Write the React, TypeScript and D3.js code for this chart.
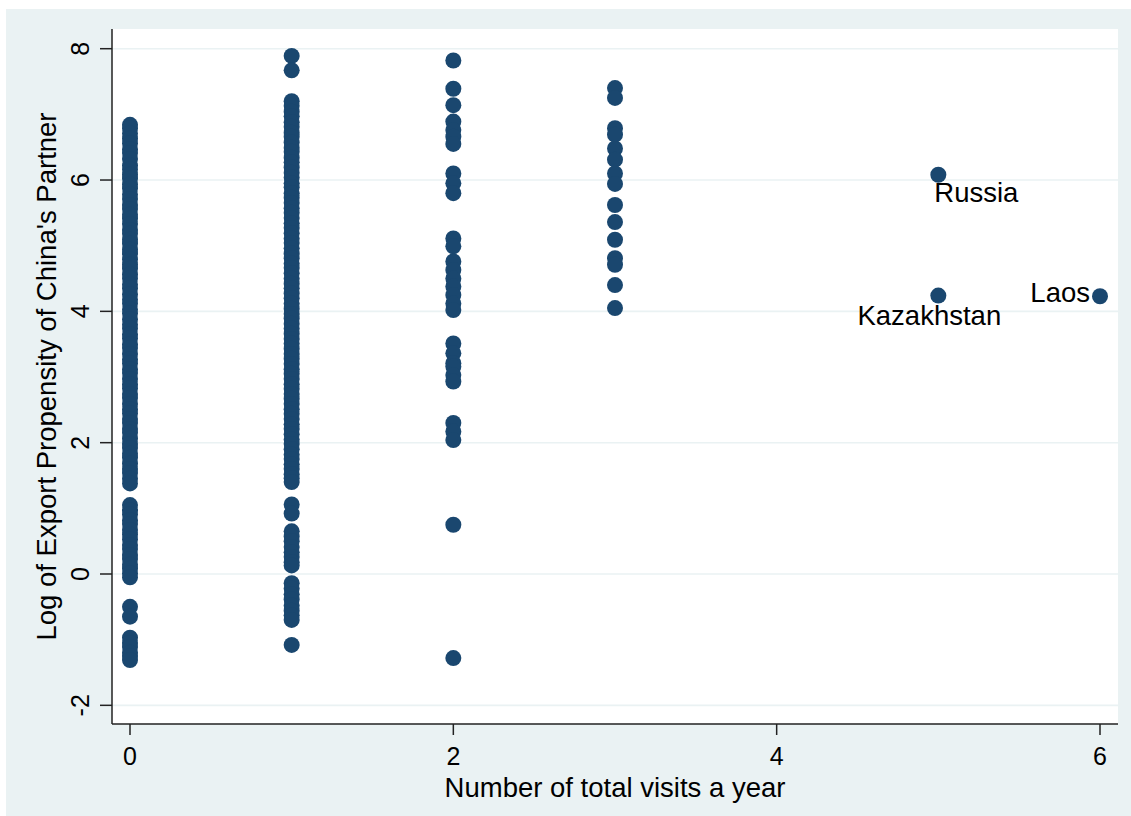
import React from "react";
import * as d3 from "d3";

// ---- data ----
const visits0: number[] = [
  6.84, 6.79, 6.71, 6.63, 6.56, 6.47, 6.41, 6.32, 6.22, 6.16, 6.08, 6.02, 5.93, 5.87, 5.78, 5.71,
  5.62, 5.56, 5.47, 5.41, 5.33, 5.24, 5.18, 5.09, 5.03, 4.94, 4.88, 4.79, 4.71, 4.65, 4.56, 4.5,
  4.41, 4.35, 4.26, 4.18, 4.12, 4.03, 3.97, 3.88, 3.8, 3.74, 3.65, 3.59, 3.5, 3.44, 3.35, 3.27,
  3.21, 3.12, 3.06, 2.97, 2.89, 2.83, 2.74, 2.68, 2.59, 2.51, 2.45, 2.36, 2.3, 2.21, 2.15, 2.06,
  1.98, 1.92, 1.83, 1.77, 1.68, 1.6, 1.54, 1.45, 1.38,
  1.05, 0.97, 0.91, 0.82, 0.76, 0.67, 0.6, 0.53, 0.44, 0.38, 0.29, 0.23, 0.14, 0.08, 0.01, -0.05,
  -0.5, -0.65,
  -0.97, -1.05, -1.11, -1.2, -1.25, -1.31,
];

const visits1: number[] = [
  7.89, 7.67,
  7.2, 7.13, 7.04, 6.97, 6.88, 6.81, 6.72, 6.66, 6.57, 6.49, 6.43, 6.34, 6.27, 6.19, 6.11, 6.04,
  5.95, 5.89, 5.8, 5.73, 5.65, 5.57, 5.5, 5.42, 5.34, 5.27, 5.19, 5.11, 5.04, 4.96, 4.88, 4.81,
  4.73, 4.66, 4.58, 4.5, 4.42, 4.35, 4.27, 4.2, 4.12, 4.04, 3.96, 3.89, 3.81, 3.74, 3.66, 3.58,
  3.51, 3.43, 3.35, 3.28, 3.2, 3.12, 3.05, 2.97, 2.89, 2.82, 2.74, 2.67, 2.59, 2.51, 2.44, 2.36,
  2.28, 2.21, 2.13, 2.05, 1.98, 1.9, 1.82, 1.75, 1.67, 1.6, 1.52, 1.46, 1.4,
  1.06, 0.92,
  0.65, 0.57, 0.5, 0.41, 0.33, 0.26, 0.18, 0.13,
  -0.14, -0.22, -0.31, -0.39, -0.48, -0.56, -0.63, -0.7,
  -1.08,
];

const visits2: number[] = [
  7.82, 7.39, 7.14, 6.89, 6.76, 6.66, 6.55, 6.1, 5.95, 5.8, 5.11, 4.99, 4.76, 4.63, 4.5, 4.38,
  4.25, 4.12, 4.02, 3.51, 3.36, 3.21, 3.16, 3.03, 2.93, 2.3, 2.17, 2.04, 0.75, -1.28,
];

const visits3: number[] = [
  7.4, 7.25, 6.79, 6.69, 6.48, 6.31, 6.1, 5.94, 5.62, 5.36, 5.09, 4.81, 4.71, 4.4, 4.05,
];

const labelledNames: string[] = ["Russia", "Kazakhstan", "Laos"];
const labelledVisits: number[] = [5, 5, 6];
const labelledValues: number[] = [6.08, 4.24, 4.23];
const labelClock: number[] = [5, 6, 9];

const xTicks: number[] = [0, 2, 4, 6];
const yTicks: number[] = [-2, 0, 2, 4, 6, 8];
const xTitle = "Number of total visits a year";
const yTitle = "Log of Export Propensity of China's Partner";

// ---- layout ----
const W = 1131;
const H = 816;
const plot = { left: 112, right: 1118, top: 29, bottom: 724 };
const navy = "#1a476f";
const bg = "#eaf2f3";
const font = "'Liberation Sans', Arial, Helvetica, sans-serif";

export default function App() {
  const x = d3.scaleLinear().domain([0, 6]).range([130, 1100]);
  const y = d3.scaleLinear().domain([0, 8]).range([574, 48.7]);

  const points: { vx: number; vy: number }[] = [];
  [visits0, visits1, visits2, visits3].forEach((arr, i) =>
    arr.forEach((v) => points.push({ vx: i, vy: v }))
  );
  labelledNames.forEach((_, i) => points.push({ vx: labelledVisits[i], vy: labelledValues[i] }));

  const labelOffset = (clock: number) => {
    if (clock === 5) return { dx: -4, dy: 27, anchor: "start" };
    if (clock === 6) return { dx: -9, dy: 29, anchor: "middle" };
    return { dx: -10, dy: 6, anchor: "end" };
  };

  return (
    <svg
      width={W}
      height={H}
      style={{ position: "absolute", left: 0, top: 0, display: "block" }}
      fontFamily={font}
    >
      <rect x={0} y={0} width={W} height={H} fill="#ffffff" />
      <rect x={6} y={9} width={W - 6} height={H - 9} fill={bg} />
      <rect
        x={plot.left}
        y={plot.top}
        width={plot.right - plot.left}
        height={plot.bottom - plot.top}
        fill="#ffffff"
      />
      {/* gridlines */}
      {yTicks.map((t) => (
        <line
          key={"g" + t}
          x1={plot.left}
          x2={plot.right}
          y1={y(t)}
          y2={y(t)}
          stroke={bg}
          strokeWidth={1.6}
        />
      ))}
      {/* points */}
      {points.map((p, i) => (
        <circle key={i} cx={x(p.vx)} cy={y(p.vy)} r={8} fill={navy} />
      ))}
      {/* labels */}
      {labelledNames.map((n, i) => {
        const o = labelOffset(labelClock[i]);
        return (
          <text
            key={n}
            x={x(labelledVisits[i]) + o.dx}
            y={y(labelledValues[i]) + o.dy}
            textAnchor={o.anchor as any}
            fontSize={27.5}
            fill="#000"
          >
            {n}
          </text>
        );
      })}
      {/* axes */}
      <line x1={plot.left} x2={plot.left} y1={plot.top} y2={plot.bottom} stroke="#222" strokeWidth={1.5} />
      <line x1={plot.left} x2={plot.right} y1={plot.bottom} y2={plot.bottom} stroke="#222" strokeWidth={1.5} />
      {yTicks.map((t) => (
        <g key={"yt" + t}>
          <line x1={plot.left - 12} x2={plot.left} y1={y(t)} y2={y(t)} stroke="#222" strokeWidth={1.5} />
          <text
            transform={`translate(${89},${y(t)}) rotate(-90)`}
            textAnchor="middle"
            fontSize={25}
            fill="#000"
          >
            {t}
          </text>
        </g>
      ))}
      {xTicks.map((t) => (
        <g key={"xt" + t}>
          <line x1={x(t)} x2={x(t)} y1={plot.bottom} y2={plot.bottom + 11} stroke="#222" strokeWidth={1.5} />
          <text x={x(t)} y={765} textAnchor="middle" fontSize={25} fill="#000">
            {t}
          </text>
        </g>
      ))}
      <text x={(plot.left + plot.right) / 2} y={797} textAnchor="middle" fontSize={27.5} fill="#000">
        {xTitle}
      </text>
      <text
        transform={`translate(${56},${(plot.top + plot.bottom) / 2}) rotate(-90)`}
        textAnchor="middle"
        fontSize={27.5}
        fill="#000"
      >
        {yTitle}
      </text>
    </svg>
  );
}
